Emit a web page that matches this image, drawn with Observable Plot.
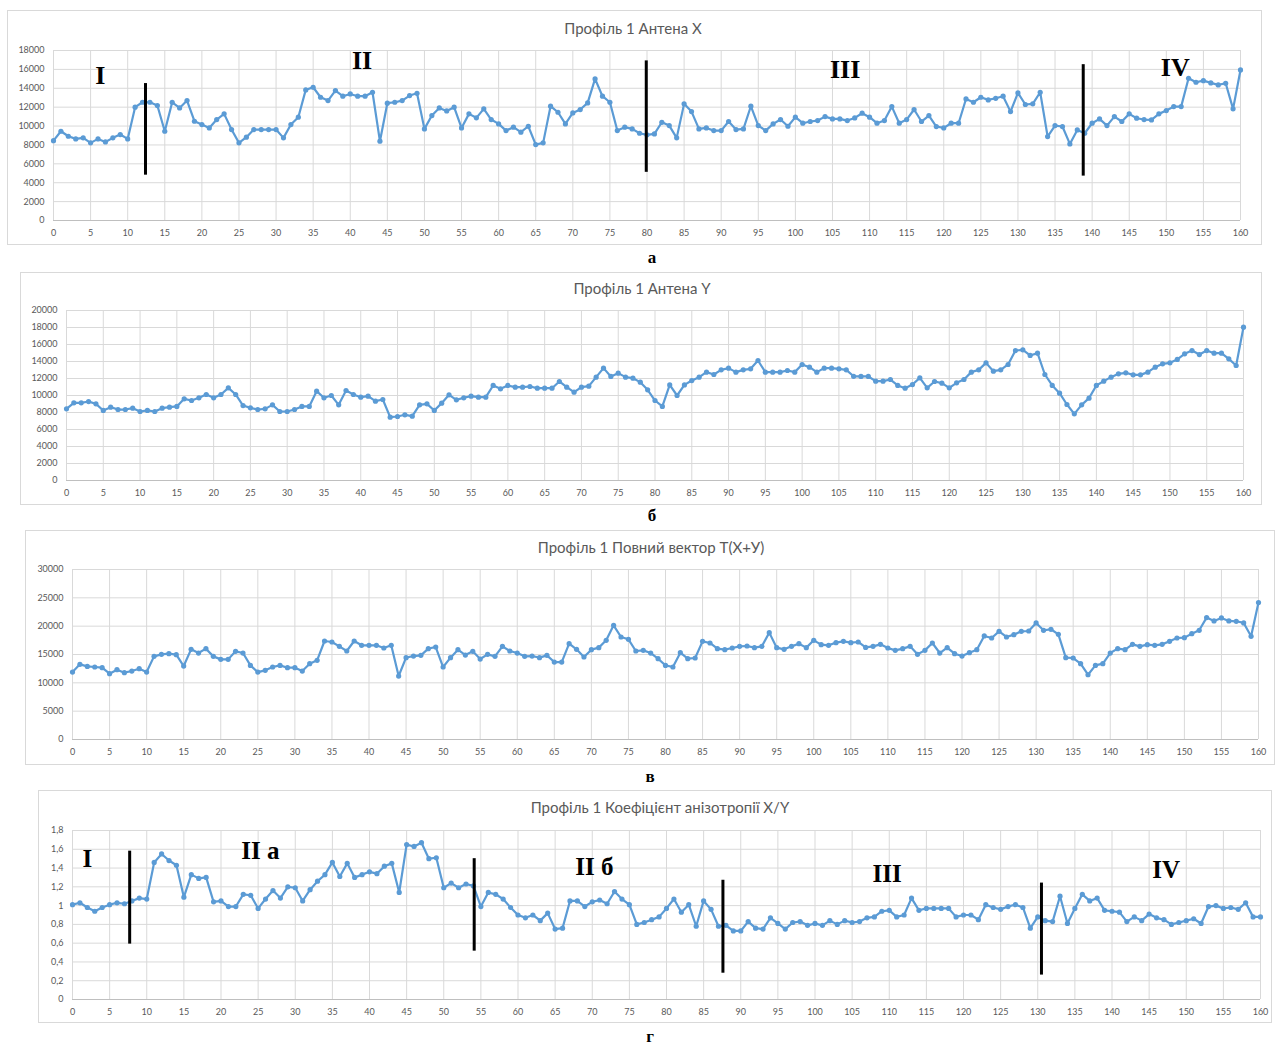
<!DOCTYPE html>
<html><head><meta charset="utf-8">
<script src="https://cdn.jsdelivr.net/npm/d3@7"></script>
<script src="https://cdn.jsdelivr.net/npm/@observablehq/plot@0.6"></script>
<style>
body{margin:0;background:#fff;width:1275px;height:1044px;position:relative;overflow:hidden;font-family:Lato,"Open Sans",sans-serif;}
.box{position:absolute;border:1px solid #d9d9d9;box-sizing:border-box;}
.title{position:absolute;font-family:Lato,"Open Sans",sans-serif;font-size:15px;color:#595959;white-space:nowrap;transform:translate(-50%,-50%);}
.cap{position:absolute;font-family:"Liberation Serif",serif;font-weight:bold;font-size:17px;color:#000;transform:translate(-50%,-50%);}
.plot{position:absolute;}
</style></head>
<body>
<script>
// ---- data (index 0..160) ----
const antennaX = [8450,9450,8920,8640,8750,8220,8640,8320,8750,9100,
8640,12000,12520,12520,12170,9450,12520,11920,12700,10510,
10160,9800,10690,11290,9630,8220,8820,9630,9630,9630,
9630,8750,10160,10940,13830,14110,13050,12700,13760,13160,
13400,13160,13160,13580,8400,12420,12520,12700,13230,13470,
9700,11110,11920,11600,12000,9800,11290,10870,11820,10690,
10230,9520,9880,9350,9980,8040,8220,12100,11460,10230,
11390,11750,12450,14990,13160,12520,9520,9880,9700,9240,
9070,9170,10400,10050,8750,12350,11530,9700,9800,9520,
9520,10480,9630,9700,12100,10050,9520,10230,10690,9980,
10940,10300,10480,10580,11000,10760,10760,10580,10860,11360,
10940,10300,10580,12060,10300,10690,11750,10480,11110,9950,
9800,10300,10300,12870,12520,13050,12770,12940,13160,11530,
13510,12280,12350,13580,8890,10050,9950,8110,9590,9240,
10300,10760,10050,11000,10480,11290,10830,10690,10650,11290,
11640,12060,12060,15060,14640,14810,14570,14360,14530,11820,
15940];
const antennaY = [8430,9140,9140,9290,9020,8240,8630,8350,8350,8510,
8120,8240,8120,8510,8630,8710,9610,9410,9730,10120,
9730,10120,10900,10120,8820,8550,8350,8430,8900,8120,
8120,8350,8710,8710,10510,9730,10000,8900,10590,10120,
9800,9920,9330,9530,7450,7530,7730,7570,8900,9020,
8240,9100,10080,9490,9730,9920,9800,9800,11180,10780,
11180,10980,10980,11060,10860,10860,10860,11650,10980,10390,
10980,11100,12160,13220,12240,12630,12160,12040,11570,10670,
9410,8710,11250,10000,11250,11760,12160,12750,12470,13020,
13220,12750,13020,13140,14120,12750,12750,12750,12940,12750,
13650,13330,12750,13220,13220,13140,13020,12260,12240,12240,
11690,11690,11880,11180,10860,11290,12080,10900,11650,11450,
10900,11490,11880,12750,13020,13840,12860,13020,13650,15290,
15370,14710,14980,12470,11180,10270,8940,7840,8900,9690,
11180,11690,12160,12550,12670,12430,12430,12750,13330,13730,
13840,14240,14900,15290,14820,15290,14980,14980,14310,13530,
18040];
const fullVector = [11900,13260,12900,12790,12670,11610,12320,11790,12080,12490,
11900,14670,15030,15140,14970,12960,15910,15260,16030,14670,
14140,14140,15560,15260,13080,11900,12200,12790,13080,12670,
12670,12080,13380,13970,17380,17210,16440,15620,17380,16620,
16620,16620,16150,16620,11200,14440,14730,14850,16030,16320,
12790,14440,15850,14900,15560,14200,15030,14670,16440,15620,
15260,14670,14730,14440,14850,13670,13670,16910,15910,14560,
15850,16210,17500,20150,18090,17680,15620,15730,15260,14260,
13080,12790,15320,14260,14380,17320,17030,16030,15850,16150,
16440,16500,16210,16440,18860,16210,15910,16440,16910,16210,
17500,16740,16620,17090,17320,17090,17210,16250,16440,16790,
16150,15730,16030,16440,15030,15730,17030,15260,16210,15140,
14730,15320,15850,18270,17910,19090,18090,18500,19090,19150,
20570,19270,19450,18560,14440,14380,13380,11430,13080,13380,
15260,16030,15850,16790,16440,16740,16620,16790,17320,17910,
17970,18680,19270,21510,20920,21450,20920,20860,20570,18210,
24160];
const anisotropy = [1.01,1.03,0.98,0.94,0.98,1.01,1.03,1.02,1.05,1.08,
1.07,1.46,1.55,1.48,1.43,1.09,1.33,1.29,1.30,1.04,
1.05,0.99,0.99,1.12,1.11,0.97,1.07,1.16,1.08,1.20,
1.19,1.05,1.17,1.26,1.33,1.46,1.31,1.45,1.30,1.33,
1.36,1.34,1.42,1.45,1.14,1.65,1.63,1.67,1.50,1.51,
1.19,1.24,1.19,1.23,1.21,0.99,1.14,1.12,1.07,0.98,
0.90,0.87,0.90,0.84,0.92,0.75,0.76,1.05,1.05,0.99,
1.04,1.06,1.02,1.15,1.07,1.01,0.80,0.82,0.85,0.88,
0.97,1.07,0.93,1.01,0.78,1.05,0.96,0.78,0.79,0.73,
0.73,0.83,0.76,0.75,0.87,0.81,0.75,0.82,0.83,0.79,
0.81,0.79,0.84,0.80,0.84,0.82,0.83,0.87,0.88,0.94,
0.95,0.88,0.90,1.08,0.95,0.97,0.97,0.97,0.97,0.88,
0.90,0.90,0.85,1.01,0.98,0.96,0.99,1.01,0.98,0.76,
0.88,0.84,0.83,1.10,0.81,0.97,1.12,1.05,1.08,0.95,
0.94,0.93,0.83,0.88,0.84,0.91,0.87,0.85,0.80,0.82,
0.84,0.86,0.81,0.99,1.00,0.97,0.98,0.96,1.03,0.88,
0.88];

const xTicks = [0,5,10,15,20,25,30,35,40,45,50,55,60,65,70,75,80,85,90,95,100,105,110,115,120,125,130,135,140,145,150,155,160];
const yTicksA = [0,2000,4000,6000,8000,10000,12000,14000,16000,18000];
const yTicksB = [0,2000,4000,6000,8000,10000,12000,14000,16000,18000,20000];
const yTicksC = [0,5000,10000,15000,20000,25000,30000];
const yTicksD = [0,0.2,0.4,0.6,0.8,1.0,1.2,1.4,1.6,1.8];

const titles = ["Профіль 1 Антена X","Профіль 1 Антена Y","Профіль 1 Повний вектор T(X+У)","Профіль 1 Коефіцієнт анізотропії X/Y"];
const captions = ["а","б","в","г"];

const dividersA = [{x:12.4,y1:4800,y2:14500},{x:79.9,y1:5100,y2:16900},{x:138.8,y1:4700,y2:16500}];
const labelsA = [{x:6.3,y:15300,t:"I"},{x:41.6,y:16900,t:"II"},{x:106.7,y:16000,t:"III"},{x:151.2,y:16200,t:"IV"}];
const dividersD = [{x:7.7,y1:0.59,y2:1.58},{x:54.1,y1:0.515,y2:1.50},{x:87.6,y1:0.28,y2:1.27},{x:130.5,y1:0.26,y2:1.24}];
const labelsD = [{x:2.0,y:1.50,t:"I"},{x:25.3,y:1.58,t:"II а"},{x:70.3,y:1.41,t:"II б"},{x:109.7,y:1.34,t:"III"},{x:147.3,y:1.38,t:"IV"}];

// ---- layout ----
const panels = [
  {box:[7,10,1262,245], area:[53,1240,50,220], values:antennaX, ymax:18000, yticks:yTicksA, fmt:d=>String(d),
   title:titles[0], tx:633, ty:28, cap:captions[0], cx:652, cy:258, div:dividersA, lab:labelsA, fs:26},
  {box:[20,272,1262,505], area:[66,1243,310,480], values:antennaY, ymax:20000, yticks:yTicksB, fmt:d=>String(d),
   title:titles[1], tx:642, ty:288, cap:captions[1], cx:652, cy:516, div:[], lab:[], fs:26},
  {box:[25,530,1275,765], area:[72,1258,569,739], values:fullVector, ymax:30000, yticks:yTicksC, fmt:d=>String(d),
   title:titles[2], tx:651, ty:547, cap:captions[2], cx:650, cy:777, div:[], lab:[], fs:26},
  {box:[38,790,1272,1023], area:[72,1260,830,999], values:anisotropy, ymax:1.8, yticks:yTicksD,
   fmt:d=>d===0?"0":String(+d.toFixed(1)).replace(".",","),
   title:titles[3], tx:660, ty:807, cap:captions[3], cx:650, cy:1037, div:dividersD, lab:labelsD, fs:25}
];

const blue = "#5B9BD5", grid = "#d9d9d9";
for (const p of panels) {
  const [bl,bt,br,bb] = p.box, [x0,x1,yt,yb] = p.area;
  const box = document.createElement("div");
  box.className = "box";
  Object.assign(box.style,{left:bl+"px",top:bt+"px",width:(br-bl)+"px",height:(bb-bt)+"px"});
  document.body.appendChild(box);

  const rows = p.values.map((v,i)=>({i,v}));
  const svg = Plot.plot({
    width: br-bl, height: bb-bt,
    marginLeft: x0-bl, marginRight: br-x1, marginTop: yt-bt, marginBottom: bb-yb,
    style:{fontFamily:"Lato, 'Open Sans', sans-serif", fontSize:"9px", color:"#595959", background:"transparent", overflow:"visible"},
    x:{domain:[0,160]},
    y:{domain:[0,p.ymax]},
    marks:[
      Plot.gridY(p.yticks,{stroke:grid,strokeOpacity:1}),
      Plot.gridX(xTicks,{stroke:grid,strokeOpacity:1}),
      Plot.ruleY([0],{stroke:"#bfbfbf"}),
      Plot.line(rows,{x:"i",y:"v",stroke:blue,strokeWidth:2.2}),
      Plot.dot(rows,{x:"i",y:"v",r:2.6,fill:blue,stroke:"none"}),
      Plot.ruleX(p.div,{x:"x",y1:"y1",y2:"y2",stroke:"#000",strokeWidth:3}),
      Plot.text(p.lab,{x:"x",y:"y",text:"t",fontFamily:"'Liberation Serif', serif",fontWeight:"bold",fontSize:p.fs,fill:"#000"}),
      Plot.axisX(xTicks,{tickSize:0,tickPadding:9,label:null,fill:"#595959",fontSize:9}),
      Plot.axisY(p.yticks,{tickSize:0,tickPadding:9,label:null,tickFormat:p.fmt,fill:"#595959",fontSize:9})
    ]
  });
  svg.classList.add("plot");
  Object.assign(svg.style,{left:bl+"px",top:bt+"px"});
  document.body.appendChild(svg);

  const t = document.createElement("div");
  t.className = "title"; t.textContent = p.title;
  Object.assign(t.style,{left:p.tx+"px",top:p.ty+"px"});
  document.body.appendChild(t);

  const c = document.createElement("div");
  c.className = "cap"; c.textContent = p.cap;
  Object.assign(c.style,{left:p.cx+"px",top:p.cy+"px"});
  document.body.appendChild(c);
}
</script>
</body></html>
